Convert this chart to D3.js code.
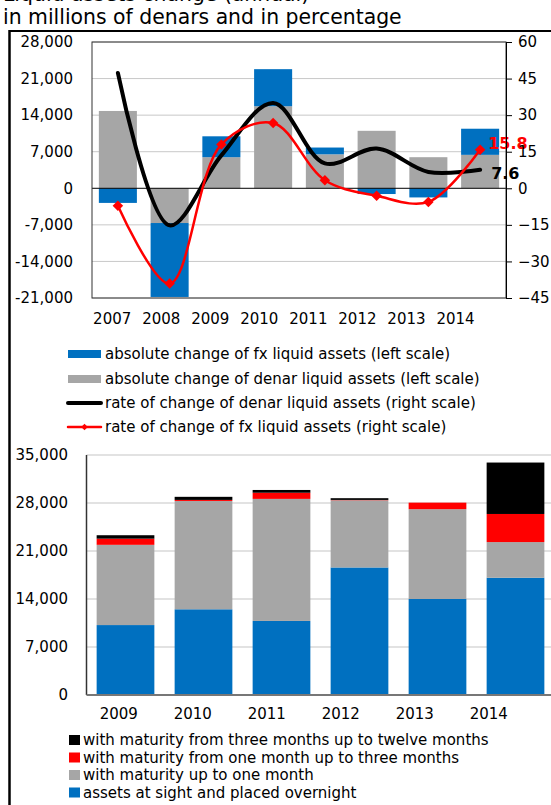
<!doctype html>
<html>
<head>
<meta charset="UTF-8">
<title>Liquid assets</title>
<script src="https://d3js.org/d3.v7.min.js"></script>
<style>
  body { margin: 0; background: #fff; }
  svg { display: block; font-family: "DejaVu Sans", Verdana, sans-serif; }
</style>
</head>
<body>
<script>
  // top chart data
  var years = ["2007", "2008", "2009", "2010", "2011", "2012", "2013", "2014"];
  var denarAbs = [14800, -6650, 5950, 15700, 6500, 11000, 5950, 6400];
  var fxAbs = [-2800, -14150, 4000, 7100, 1300, -1100, -1750, 5000];
  var denarRate = [47.3, -15.2, 13.5, 35.0, 10.2, 16.3, 6.7, 7.6];
  var fxRate = [-7.2, -39.1, 18.0, 26.8, 3.3, -3.1, -5.6, 15.8];
  var leftTicks = [-21000, -14000, -7000, 0, 7000, 14000, 21000, 28000];
  var rightTicks = [-45, -30, -15, 0, 15, 30, 45, 60];

  // bottom chart data
  var years2 = ["2009", "2010", "2011", "2012", "2013", "2014"];
  var atSight = [10200, 12500, 10800, 18600, 14000, 17100];
  var upToMonth = [11700, 15800, 17800, 9800, 13100, 5200];
  var oneToThree = [900, 150, 900, 50, 950, 4100];
  var threeToTwelve = [500, 450, 400, 250, 0, 7500];
  var bottomTicks = [0, 7000, 14000, 21000, 28000, 35000];

  var blue = "#0070C0", grey = "#A6A6A6", red = "#FF0000";
  var fmt = function(d) { return d3.format(",")(d).replace("\u2212", "-"); };

  var svg = d3.select("body").append("svg").attr("width", 551).attr("height", 805);

  // titles and frame
  svg.append("text").attr("x", 3).attr("y", 1).attr("font-size", 20.4)
    .text("Liquid assets change (annual)");
  svg.append("text").attr("x", 3).attr("y", 24).attr("font-size", 20.4)
    .text("in millions of denars and in percentage");
  svg.append("line").attr("x1", 9).attr("x2", 551).attr("y1", 31).attr("y2", 31)
    .attr("stroke", "#000").attr("stroke-width", 2);
  svg.append("line").attr("x1", 9.5).attr("x2", 9.5).attr("y1", 30).attr("y2", 805)
    .attr("stroke", "#000").attr("stroke-width", 2.5);

  // ---------- top chart ----------
  var x1 = d3.scaleBand().domain(years).range([92, 506]).paddingInner(0.265).paddingOuter(0.1325);
  var yL = d3.scaleLinear().domain([-21000, 28000]).range([298, 42]);
  var yR = d3.scaleLinear().domain([-45, 60]).range([298, 42]);
  var xLab1 = d3.scalePoint().domain(years).range([111.7, 455]);

  var gTop = svg.append("g");
  gTop.selectAll(".grid").data(leftTicks.filter(function(t) { return t != 0; }))
    .enter().append("line")
    .attr("x1", 92).attr("x2", 506)
    .attr("y1", function(d) { return yL(d); }).attr("y2", function(d) { return yL(d); })
    .attr("stroke", "#c8c8c8").attr("stroke-width", 1);

  var rows = years.map(function(y, i) { return { year: y, denar: denarAbs[i], fx: fxAbs[i] }; });
  var stack1 = d3.stack().keys(["denar", "fx"]).offset(d3.stackOffsetDiverging)(rows);
  var col1 = { denar: grey, fx: blue };
  stack1.forEach(function(s) {
    gTop.selectAll(".b" + s.key).data(s).enter().append("rect")
      .attr("x", function(d) { return x1(d.data.year); })
      .attr("width", x1.bandwidth())
      .attr("y", function(d) { return yL(Math.max(d[0], d[1])); })
      .attr("height", function(d) { return Math.abs(yL(d[0]) - yL(d[1])); })
      .attr("fill", col1[s.key]);
  });

  gTop.append("line").attr("x1", 92).attr("x2", 506).attr("y1", yL(0)).attr("y2", yL(0))
    .attr("stroke", "#000").attr("stroke-width", 1);
  gTop.append("rect").attr("x", 92).attr("y", 42).attr("width", 414).attr("height", 256)
    .attr("fill", "none").attr("stroke", "#333").attr("stroke-width", 1);

  var cx = function(d, i) { return x1(years[i]) + x1.bandwidth() / 2; };
  var line = d3.line().x(cx).y(function(d) { return yR(d); }).curve(d3.curveCatmullRom.alpha(0.5));

  gTop.append("path").attr("d", line(denarRate)).attr("fill", "none")
    .attr("stroke", "#000").attr("stroke-width", 4).attr("stroke-linecap", "round");
  gTop.append("path").attr("d", line(fxRate)).attr("fill", "none")
    .attr("stroke", red).attr("stroke-width", 2.5);
  var diamond = d3.symbol().type(d3.symbolSquare).size(55);
  gTop.selectAll(".mk").data(fxRate).enter().append("path")
    .attr("d", diamond)
    .attr("transform", function(d, i) { return "translate(" + cx(d, i) + "," + yR(d) + ") rotate(45)"; })
    .attr("fill", red);

  // value labels at the end
  var last = years.length - 1;
  gTop.append("text").attr("x", cx(0, last) + 8).attr("y", yR(fxRate[last]) - 6).attr("dy", "0.35em")
    .attr("font-size", 16).attr("font-weight", "bold").attr("fill", red).text(fxRate[last].toFixed(1));
  gTop.append("text").attr("x", cx(0, last) + 11).attr("y", yR(denarRate[last]) + 4).attr("dy", "0.35em")
    .attr("font-size", 16).attr("font-weight", "bold").attr("fill", "#000").text(denarRate[last].toFixed(1));

  // axes
  var axL = gTop.append("g").attr("transform", "translate(92,0)")
    .call(d3.axisLeft(yL).tickValues(leftTicks).tickSize(0).tickPadding(19).tickFormat(fmt));
  axL.select(".domain").remove();
  var axR = gTop.append("g").attr("transform", "translate(506,0)")
    .call(d3.axisRight(yR).tickValues(rightTicks).tickSize(6).tickSizeOuter(0).tickPadding(6));
  axR.selectAll("line,path").attr("stroke", "#000");
  var axX = gTop.append("g").attr("transform", "translate(0,313)")
    .call(d3.axisBottom(xLab1).tickSize(0).tickPadding(0));
  axX.select(".domain").remove();
  [axL, axR, axX].forEach(function(g) {
    g.attr("font-size", 15).attr("font-family", null);
    g.selectAll("text").attr("fill", "#000");
  });

  // top legend
  var leg1 = [
    { label: "absolute change of fx liquid assets (left scale)", type: "rect", color: blue },
    { label: "absolute change of denar liquid assets (left scale)", type: "rect", color: grey },
    { label: "rate of change of denar liquid assets (right scale)", type: "line", color: "#000" },
    { label: "rate of change of fx liquid assets (right scale)", type: "marker", color: red }
  ];
  var legY1 = [354, 379, 403, 427];
  leg1.forEach(function(d, i) {
    var g = svg.append("g").attr("transform", "translate(0," + legY1[i] + ")");
    if (d.type == "rect") {
      g.append("rect").attr("x", 68).attr("y", -4).attr("width", 33).attr("height", 8).attr("fill", d.color);
    } else {
      g.append("line").attr("x1", 68).attr("x2", 101).attr("stroke", d.color)
        .attr("stroke-width", d.type == "line" ? 4 : 2.5).attr("stroke-linecap", "round");
      if (d.type == "marker") {
        g.append("path").attr("d", d3.symbol().type(d3.symbolSquare).size(22))
          .attr("transform", "translate(84.5,0) rotate(45)").attr("fill", d.color);
      }
    }
    g.append("text").attr("x", 105).attr("dy", "0.35em").attr("font-size", 15).text(d.label);
  });

  // ---------- bottom chart ----------
  var x2 = d3.scaleBand().domain(years2).range([86.5, 554.5]).paddingInner(0.26).paddingOuter(0.13);
  var y2 = d3.scaleLinear().domain([0, 35000]).range([695, 455]);
  var xLab2 = d3.scalePoint().domain(years2).range([118.3, 488.3]);

  var gBot = svg.append("g");
  gBot.selectAll(".grid").data(bottomTicks.filter(function(t) { return t != 0; }))
    .enter().append("line")
    .attr("x1", 86.5).attr("x2", 551)
    .attr("y1", function(d) { return y2(d); }).attr("y2", function(d) { return y2(d); })
    .attr("stroke", "#d9d9d9").attr("stroke-width", 1.5);

  var rows2 = years2.map(function(y, i) {
    return { year: y, sight: atSight[i], m1: upToMonth[i], m3: oneToThree[i], m12: threeToTwelve[i] };
  });
  var keys2 = ["sight", "m1", "m3", "m12"];
  var col2 = { sight: blue, m1: grey, m3: red, m12: "#000" };
  var stack2 = d3.stack().keys(keys2)(rows2);
  stack2.forEach(function(s) {
    gBot.selectAll(".s" + s.key).data(s).enter().append("rect")
      .attr("x", function(d) { return x2(d.data.year); })
      .attr("width", x2.bandwidth())
      .attr("y", function(d) { return y2(d[1]); })
      .attr("height", function(d) { return y2(d[0]) - y2(d[1]); })
      .attr("fill", col2[s.key]);
  });

  gBot.append("line").attr("x1", 86.5).attr("x2", 86.5).attr("y1", 455).attr("y2", 695)
    .attr("stroke", "#333").attr("stroke-width", 1.5);
  gBot.append("line").attr("x1", 86.5).attr("x2", 551).attr("y1", 695).attr("y2", 695)
    .attr("stroke", "#777").attr("stroke-width", 2);

  var axL2 = gBot.append("g").attr("transform", "translate(86.5,0)")
    .call(d3.axisLeft(y2).tickValues(bottomTicks).tickSize(0).tickPadding(18.5).tickFormat(fmt));
  axL2.select(".domain").remove();
  var axX2 = gBot.append("g").attr("transform", "translate(0,708)")
    .call(d3.axisBottom(xLab2).tickSize(0).tickPadding(0));
  axX2.select(".domain").remove();
  [axL2, axX2].forEach(function(g) {
    g.attr("font-size", 15).attr("font-family", null);
    g.selectAll("text").attr("fill", "#000");
  });

  // bottom legend
  var leg2 = [
    { label: "with maturity from three months up to twelve months", color: "#000" },
    { label: "with maturity from one month up to three months", color: red },
    { label: "with maturity up to one month", color: grey },
    { label: "assets at sight and placed overnight", color: blue }
  ];
  var legY2 = [740, 757.5, 775, 792.5];
  leg2.forEach(function(d, i) {
    var g = svg.append("g").attr("transform", "translate(0," + legY2[i] + ")");
    g.append("rect").attr("x", 69).attr("y", -5).attr("width", 11).attr("height", 10).attr("fill", d.color);
    g.append("text").attr("x", 83).attr("dy", "0.35em").attr("font-size", 15).text(d.label);
  });
</script>
</body>
</html>
